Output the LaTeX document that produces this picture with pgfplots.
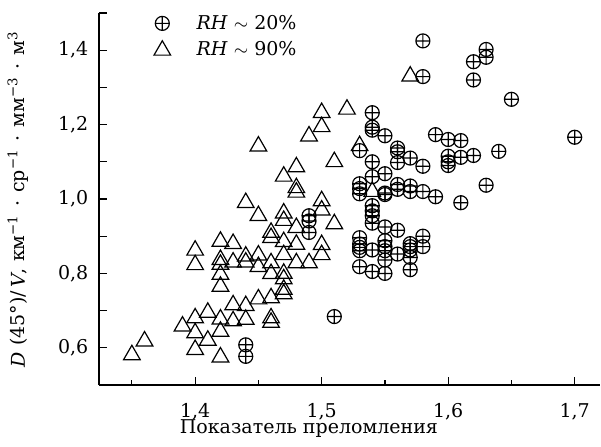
\documentclass[border=0pt]{standalone}
\usepackage{fontspec}
\setmainfont{DejaVu Serif}
\usepackage{pgfplots}
\pgfplotsset{compat=1.18}
\newcommand{\dt}{\hspace{0.42em}·\hspace{0.42em}}
\begin{document}
\fontsize{9.5}{11}\selectfont
\begin{tikzpicture}
\begin{axis}[
  scale only axis, width=250.5pt, height=186pt,
  xmin=1.324, xmax=1.72, ymin=0.5, ymax=1.5,
  axis x line*=bottom, axis y line*=left,
  axis line style={line width=0.6pt, black},
  tick align=inside,
  xtick={1.4,1.5,1.6,1.7}, xticklabels={{1,4},{1,5},{1,6},{1,7}},
  minor xtick={1.35,1.45,1.55,1.65},
  ytick={0.5,0.6,0.7,0.8,0.9,1.0,1.1,1.2,1.3,1.4,1.5},
  yticklabels={,{0,6},,{0,8},,{1,0},,{1,2},,{1,4},},
  major tick length=4pt, minor tick length=2.5pt,
  tick style={black, line width=0.6pt},
  xticklabel style={yshift=-5.6pt},
  yticklabel style={xshift=-2pt},
  xlabel={Показатель преломления},
  xlabel style={at={(axis description cs:0.419,-0.1298)}, anchor=base},
  ylabel={\textit{D} (45°)/\,\textit{V}, км\textsuperscript{−1}\dt ср\textsuperscript{−1}\dt мм\textsuperscript{−3}\dt м\textsuperscript{3}},
  ylabel style={at={(axis description cs:-0.1477,0.5)}, anchor=base},
  legend style={draw=none, fill=none, inner sep=0pt, at={(axis description cs:0.109,1.004)}, anchor=north west,
    nodes={inner ysep=1.5pt}, /tikz/column 1/.style={column sep=11pt}, row sep=2pt},
  legend cell align=left,
]
\addplot[only marks, mark=oplus, mark size=3.5pt, line width=0.6pt, black] table {
1.70 1.166
1.65 1.268
1.64 1.128
1.63 1.402
1.63 1.381
1.63 1.037
1.62 1.369
1.62 1.320
1.62 1.117
1.61 1.157
1.61 1.112
1.61 0.990
1.60 1.160
1.60 1.115
1.60 1.100
1.60 1.090
1.59 1.173
1.59 1.006
1.58 1.425
1.58 1.329
1.58 1.088
1.58 1.020
1.58 0.900
1.58 0.872
1.57 1.110
1.57 1.035
1.57 1.020
1.57 0.880
1.57 0.872
1.57 0.863
1.57 0.843
1.57 0.810
1.56 1.137
1.56 1.127
1.56 1.098
1.56 1.039
1.56 1.026
1.56 0.916
1.56 0.852
1.55 1.170
1.55 1.068
1.55 1.016
1.55 1.012
1.55 0.925
1.55 0.888
1.55 0.872
1.55 0.861
1.55 0.836
1.55 0.800
1.54 1.232
1.54 1.193
1.54 1.185
1.54 1.100
1.54 1.060
1.54 0.982
1.54 0.968
1.54 0.955
1.54 0.935
1.54 0.863
1.54 0.805
1.53 1.130
1.53 1.041
1.53 1.028
1.53 1.014
1.53 0.896
1.53 0.879
1.53 0.870
1.53 0.861
1.53 0.818
1.51 0.684
1.49 0.955
1.49 0.941
1.49 0.910
1.44 0.608
1.44 0.577
};
\addlegendentry{\textit{RH} $\sim$ 20\%}
\addplot[only marks, mark=triangle, mark size=4.8pt, line width=0.6pt, black] table {
1.35 0.581
1.36 0.618
1.39 0.658
1.40 0.862
1.40 0.823
1.40 0.680
1.40 0.640
1.40 0.595
1.41 0.695
1.41 0.620
1.42 0.886
1.42 0.837
1.42 0.824
1.42 0.797
1.42 0.765
1.42 0.677
1.42 0.644
1.42 0.575
1.43 0.880
1.43 0.830
1.43 0.715
1.43 0.672
1.44 0.990
1.44 0.846
1.44 0.830
1.44 0.713
1.44 0.676
1.45 1.142
1.45 0.955
1.45 0.849
1.45 0.818
1.45 0.731
1.46 0.910
1.46 0.896
1.46 0.828
1.46 0.799
1.46 0.734
1.46 0.680
1.46 0.668
1.47 1.061
1.47 0.962
1.47 0.942
1.47 0.885
1.47 0.850
1.47 0.800
1.47 0.785
1.47 0.757
1.47 0.745
1.48 1.086
1.48 1.030
1.48 1.018
1.48 0.923
1.48 0.878
1.48 0.828
1.49 1.169
1.49 0.828
1.50 1.232
1.50 1.194
1.50 0.995
1.50 0.970
1.50 0.877
1.50 0.850
1.51 1.100
1.51 0.933
1.52 1.241
1.53 1.143
1.54 1.020
1.57 1.330
};
\addlegendentry{\textit{RH} $\sim$ 90\%}
\end{axis}
\pgfresetboundingbox
\path[use as bounding box] (-49.5pt,-30.5pt) rectangle (251pt,192.5pt);
\end{tikzpicture}
\end{document}
